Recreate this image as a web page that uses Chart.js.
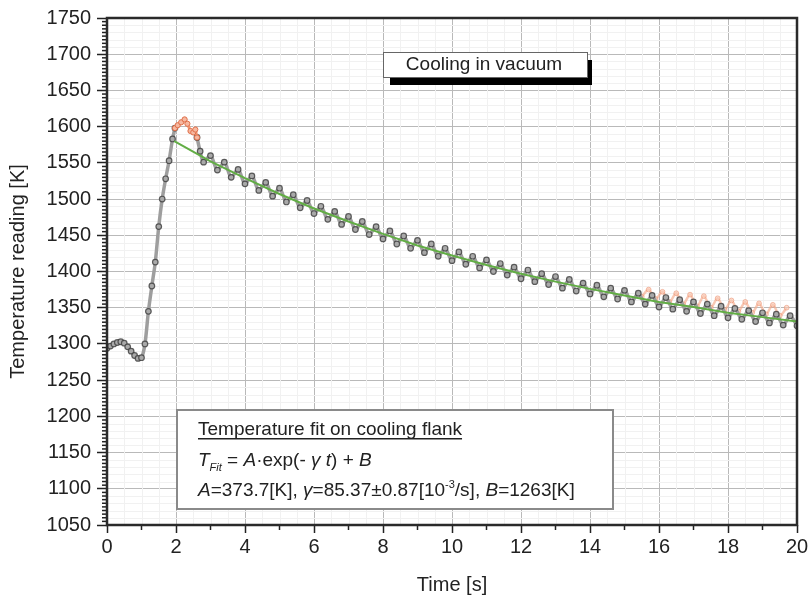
<!DOCTYPE html>
<html>
<head>
<meta charset="utf-8">
<script src="https://cdn.jsdelivr.net/npm/chart.js@4.4.1/dist/chart.umd.min.js"></script>
<style>
  html, body { margin: 0; padding: 0; background: #fff; }
  canvas { display: block; }
</style>
</head>
<body>
<canvas id="coolingChart" width="811" height="600"></canvas>
<script>
// measured signal, heating ramp (s / K)
const riseTime = [0, 0.1, 0.2, 0.3, 0.4, 0.5, 0.6, 0.7, 0.8, 0.9, 1.0, 1.1, 1.2, 1.3, 1.4, 1.5, 1.6, 1.7, 1.8, 1.9, 1.97];
const riseTemp = [1294, 1297, 1300, 1302, 1303, 1301, 1296, 1290, 1284, 1280, 1281, 1300, 1345, 1380, 1413, 1462, 1500, 1528, 1553, 1583, 1598];

// measured signal, cooling flank
const coolTime = [2.61, 2.7, 2.8, 3.0, 3.2, 3.4, 3.6, 3.8, 4.0, 4.2, 4.4, 4.6, 4.8, 5.0, 5.2, 5.4, 5.6, 5.8, 6.0, 6.2, 6.4, 6.6, 6.8, 7.0, 7.2, 7.4, 7.6, 7.8, 8.0, 8.2, 8.4, 8.6, 8.8, 9.0, 9.2, 9.4, 9.6, 9.8, 10.0, 10.2, 10.4, 10.6, 10.8, 11.0, 11.2, 11.4, 11.6, 11.8, 12.0, 12.2, 12.4, 12.6, 12.8, 13.0, 13.2, 13.4, 13.6, 13.8, 14.0, 14.2, 14.4, 14.6, 14.8, 15.0, 15.2, 15.4, 15.6, 15.8, 16.0, 16.2, 16.4, 16.6, 16.8, 17.0, 17.2, 17.4, 17.6, 17.8, 18.0, 18.2, 18.4, 18.6, 18.8, 19.0, 19.2, 19.4, 19.6, 19.8, 20.0];
const coolTemp = [1585, 1566, 1551, 1560, 1540, 1551, 1530, 1541, 1521, 1532, 1512, 1523, 1504, 1515, 1496, 1506, 1488, 1498, 1480, 1490, 1472, 1483, 1465, 1476, 1458, 1469, 1451, 1462, 1445, 1456, 1438, 1449, 1432, 1443, 1426, 1438, 1421, 1432, 1415, 1427, 1410, 1421, 1405, 1416, 1400, 1411, 1395, 1406, 1390, 1402, 1386, 1397, 1382, 1393, 1377, 1389, 1373, 1384, 1369, 1381, 1365, 1377, 1362, 1374, 1358, 1370, 1355, 1367, 1351, 1364, 1348, 1361, 1345, 1358, 1342, 1355, 1339, 1352, 1336, 1349, 1334, 1346, 1331, 1343, 1329, 1341, 1326, 1339, 1325];

// points left out of the fit (orange)
const peakTime = [1.97, 2.05, 2.15, 2.25, 2.33, 2.42, 2.5, 2.56, 2.61];
const peakTemp = [1598, 1602, 1606, 1610, 1604, 1594, 1592, 1596, 1585];
const tailTime = [15.5, 15.7, 15.9, 16.1, 16.3, 16.5, 16.7, 16.9, 17.1, 17.3, 17.5, 17.7, 17.9, 18.1, 18.3, 18.5, 18.7, 18.9, 19.1, 19.3, 19.5, 19.7];
const tailTemp = [1365, 1375, 1362, 1372, 1358, 1370, 1355, 1368, 1352, 1366, 1350, 1363, 1347, 1360, 1345, 1358, 1343, 1356, 1341, 1354, 1339, 1350];

// fitted curve
const fitTime = [1.95, 3, 4, 5, 6, 7, 8, 9, 10, 11, 12, 13, 14, 15, 16, 17, 18, 19, 20];
const fitTemp = [1580, 1552, 1529, 1507, 1487, 1469, 1452, 1436, 1422, 1409, 1397, 1386, 1376, 1367, 1358, 1351, 1343, 1337, 1331];

const xTicks = [0, 2, 4, 6, 8, 10, 12, 14, 16, 18, 20];
const yTicks = [1050, 1100, 1150, 1200, 1250, 1300, 1350, 1400, 1450, 1500, 1550, 1600, 1650, 1700, 1750];

const toPoints = (xs, ys) => xs.map((x, i) => ({ x: x, y: ys[i] }));

const measured = toPoints(riseTime, riseTemp)
    .concat([{ x: 2.3, y: null }])
    .concat(toPoints(coolTime, coolTemp));

const FONT = "'Liberation Sans', Arial, sans-serif";

// minor grid, minor ticks, frame and the two text boxes
const decorPlugin = {
    id: 'decor',
    beforeDatasetsDraw(chart) {
        const { ctx, chartArea: a, scales: { x, y } } = chart;
        ctx.save();
        ctx.strokeStyle = '#f1f1f1';
        ctx.lineWidth = 1;
        for (let t = 0.5; t < 20; t += 0.5) {
            if (t % 2 === 0) continue;
            const px = Math.round(x.getPixelForValue(t)) + 0.5;
            ctx.beginPath(); ctx.moveTo(px, a.top); ctx.lineTo(px, a.bottom); ctx.stroke();
        }
        for (let v = 1060; v < 1750; v += 10) {
            if (v % 50 === 0) continue;
            const py = Math.round(y.getPixelForValue(v)) + 0.5;
            ctx.beginPath(); ctx.moveTo(a.left, py); ctx.lineTo(a.right, py); ctx.stroke();
        }
        ctx.restore();
    },
    afterDatasetsDraw(chart) {
        const { ctx, chartArea: a, scales: { x, y } } = chart;
        ctx.save();
        ctx.strokeStyle = '#222';
        ctx.lineWidth = 1.5;
        // minor ticks
        for (let t = 1; t < 20; t += 2) {
            const px = x.getPixelForValue(t);
            ctx.beginPath(); ctx.moveTo(px, a.bottom); ctx.lineTo(px, a.bottom + 5); ctx.stroke();
        }
        for (let v = 1055; v < 1750; v += 5) {
            if (v % 50 === 0) continue;
            const py = y.getPixelForValue(v);
            ctx.beginPath(); ctx.moveTo(a.left, py); ctx.lineTo(a.left - 5, py); ctx.stroke();
        }
        // frame
        ctx.lineWidth = 2.5;
        ctx.strokeStyle = '#2a2a2a';
        ctx.strokeRect(a.left, a.top, a.right - a.left, a.bottom - a.top);

        // "Cooling in vacuum" label with drop shadow
        ctx.fillStyle = '#000';
        ctx.fillRect(390, 60, 202, 25);
        ctx.fillStyle = '#fff';
        ctx.fillRect(383, 52, 204, 25);
        ctx.strokeStyle = '#666';
        ctx.lineWidth = 1;
        ctx.strokeRect(383.5, 52.5, 204, 25);
        ctx.fillStyle = '#222';
        ctx.font = '19px ' + FONT;
        ctx.textAlign = 'center';
        ctx.textBaseline = 'middle';
        ctx.fillText('Cooling in vacuum', 484, 65);

        // fit description box
        ctx.fillStyle = '#fff';
        ctx.fillRect(177, 410, 436, 99);
        ctx.strokeStyle = '#8a8a8a';
        ctx.lineWidth = 2;
        ctx.strokeRect(177, 410, 436, 99);

        ctx.textAlign = 'left';
        ctx.textBaseline = 'alphabetic';
        ctx.fillStyle = '#222';
        ctx.font = '19px ' + FONT;
        const head = 'Temperature fit on cooling flank';
        ctx.fillText(head, 198, 435);
        const w = ctx.measureText(head).width;
        ctx.fillRect(198, 438, w, 1.5);

        const rich = (parts, x0, base) => {
            let cx = x0;
            parts.forEach(p => {
                const size = p.size || 19;
                ctx.font = (p.it ? 'italic ' : '') + size + 'px ' + FONT;
                ctx.fillText(p.t, cx, base + (p.dy || 0));
                cx += ctx.measureText(p.t).width;
            });
        };
        rich([
            { t: 'T', it: true },
            { t: 'Fit', it: true, size: 11, dy: 5 },
            { t: ' = ' },
            { t: 'A', it: true },
            { t: '\u00b7exp(- ' },
            { t: '\u03b3', it: true },
            { t: ' ' },
            { t: 't', it: true },
            { t: ') + ' },
            { t: 'B', it: true }
        ], 198, 466);
        rich([
            { t: 'A', it: true },
            { t: '=373.7[K], ' },
            { t: '\u03b3', it: true },
            { t: '=85.37\u00b10.87[10' },
            { t: '-3', size: 11, dy: -8 },
            { t: '/s], ' },
            { t: 'B', it: true },
            { t: '=1263[K]' }
        ], 198, 496);
        ctx.restore();
    }
};

document.addEventListener('DOMContentLoaded', () => {
    const ctx = document.getElementById('coolingChart').getContext('2d');
    new Chart(ctx, {
        type: 'line',
        data: {
            datasets: [
                {
                    label: 'Fit',
                    data: toPoints(fitTime, fitTemp),
                    borderColor: '#62ad45',
                    borderWidth: 2,
                    pointRadius: 0,
                    tension: 0,
                    order: 0
                },
                {
                    label: 'Excluded (peak)',
                    data: toPoints(peakTime, peakTemp),
                    borderColor: '#ef9470',
                    borderWidth: 3,
                    pointRadius: 2.6,
                    pointBorderWidth: 1,
                    pointBorderColor: '#e0704a',
                    pointBackgroundColor: '#f6b8a0',
                    order: 1
                },
                {
                    label: 'Measured',
                    data: measured,
                    borderColor: '#9e9e9e',
                    borderWidth: 3.5,
                    tension: 0.3,
                    pointRadius: 2.8,
                    pointBorderWidth: 1.2,
                    pointBorderColor: 'rgba(60,60,60,0.8)',
                    pointBackgroundColor: '#a9a9a9',
                    spanGaps: false,
                    order: 2
                },
                {
                    label: 'Excluded (tail)',
                    data: toPoints(tailTime, tailTemp),
                    borderColor: 'rgba(244,170,140,0.65)',
                    borderWidth: 2.5,
                    tension: 0.3,
                    pointRadius: 2.4,
                    pointBorderWidth: 1,
                    pointBorderColor: 'rgba(235,140,105,0.55)',
                    pointBackgroundColor: 'rgba(250,205,185,0.6)',
                    order: 3
                }
            ]
        },
        options: {
            responsive: false,
            animation: false,
            layout: { padding: { top: 17, right: 14, left: 0, bottom: 0 } },
            plugins: {
                legend: { display: false },
                tooltip: { enabled: false }
            },
            scales: {
                x: {
                    type: 'linear',
                    min: 0,
                    max: 20,
                    afterFit: s => { s.height = 75; },
                    afterBuildTicks: s => { s.ticks = xTicks.map(v => ({ value: v })); },
                    ticks: {
                        color: '#222',
                        padding: 2,
                        maxRotation: 0,
                        callback: v => String(v),
                        font: { family: FONT, size: 20 }
                    },
                    grid: {
                        color: '#b9b9b9',
                        lineWidth: 1,
                        tickColor: '#222',
                        tickLength: 8,
                        tickWidth: 1.5
                    },
                    border: { display: false },
                    title: {
                        display: true,
                        text: 'Time [s]',
                        color: '#222',
                        padding: { top: 0, bottom: 3 },
                        font: { family: FONT, size: 20 }
                    }
                },
                y: {
                    type: 'linear',
                    min: 1050,
                    max: 1750,
                    afterFit: s => { s.width = 107; },
                    afterBuildTicks: s => { s.ticks = yTicks.map(v => ({ value: v })); },
                    ticks: {
                        color: '#222',
                        padding: 6,
                        callback: v => String(v),
                        font: { family: FONT, size: 20 }
                    },
                    grid: {
                        color: '#b9b9b9',
                        lineWidth: 1,
                        tickColor: '#222',
                        tickLength: 10,
                        tickWidth: 1.5
                    },
                    border: { display: false },
                    title: {
                        display: true,
                        text: 'Temperature reading [K]',
                        color: '#222',
                        padding: { top: 6, bottom: 0 },
                        font: { family: FONT, size: 20 }
                    }
                }
            }
        },
        plugins: [decorPlugin]
    });
});
</script>
</body>
</html>
